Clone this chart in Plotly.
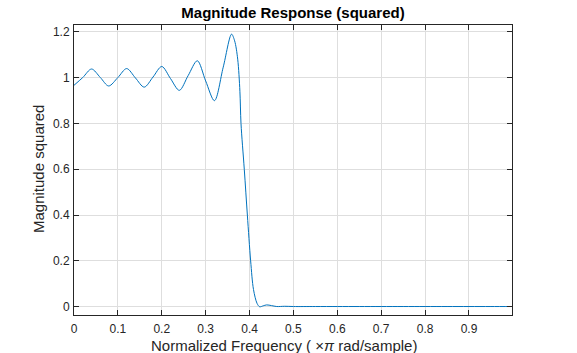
import plotly.graph_objects as go

# Normalized frequency (x pi rad/sample)
freq = [0.000, 0.020, 0.040, 0.060, 0.079, 0.100, 0.120, 0.140, 0.160, 0.180,
        0.200, 0.220, 0.240, 0.260, 0.281, 0.300, 0.320, 0.340, 0.359, 0.366,
        0.373, 0.378, 0.3805, 0.388, 0.395, 0.4025, 0.409, 0.417, 0.423, 0.431,
        0.439, 0.450, 0.462, 0.480, 0.500, 0.550, 0.600, 0.650, 0.700, 0.750,
        0.800, 0.850, 0.900, 0.950, 0.998]
# Magnitude squared values
mag2 = [0.966, 1.000, 1.037, 1.000, 0.963, 1.000, 1.039, 0.998, 0.958, 1.002,
        1.048, 0.995, 0.944, 1.008, 1.073, 0.985, 0.899, 1.045, 1.189, 1.160,
        1.080, 0.940, 0.800, 0.600, 0.400, 0.200, 0.075, 0.015, 0.000, 0.004,
        0.008, 0.005, 0.001, 0.002, 0.001, 0.001, 0.001, 0.001, 0.001, 0.001,
        0.001, 0.001, 0.001, 0.001, 0.001]

xtick_vals = [0, 0.1, 0.2, 0.3, 0.4, 0.5, 0.6, 0.7, 0.8, 0.9]
xtick_text = ["0", "0.1", "0.2", "0.3", "0.4", "0.5", "0.6", "0.7", "0.8", "0.9"]
ytick_vals = [0, 0.2, 0.4, 0.6, 0.8, 1.0, 1.2]
ytick_text = ["0", "0.2", "0.4", "0.6", "0.8", "1", "1.2"]

FONT = "Liberation Sans, Arial, sans-serif"
AX = "#262626"
GRID = "#dedede"

W, H = 577, 353
L, R, T, B = 74, 65, 25, 38
PW, PH = W - L - R, H - T - B

fig = go.Figure()
fig.add_trace(go.Scatter(x=freq, y=mag2, mode="lines",
                         line=dict(color="#0072BD", width=1, shape="spline", smoothing=0.9),
                         showlegend=False, hoverinfo="skip"))

axis_common = dict(showline=True, linecolor=AX, linewidth=1, mirror="allticks",
                   ticks="inside", ticklen=5, tickcolor=AX, tickwidth=1,
                   showgrid=True, gridcolor=GRID, gridwidth=1, zeroline=False,
                   automargin=False,
                   tickfont=dict(family=FONT, size=12, color=AX))

fig.update_xaxes(range=[0, 0.998], tickvals=xtick_vals, ticktext=xtick_text,
                 ticklabelstandoff=3, **axis_common)
fig.update_yaxes(range=[-0.036, 1.229], tickvals=ytick_vals, ticktext=ytick_text,
                 ticklabelstandoff=1, **axis_common)

fig.add_annotation(text="Normalized Frequency ( ×<i>π</i> rad/sample)",
                   xref="paper", yref="paper",
                   x=(284 - L) / PW, y=-(345 - (T + PH)) / PH,
                   xanchor="center", yanchor="middle", showarrow=False,
                   font=dict(family=FONT, size=15, color=AX))
fig.add_annotation(text="Magnitude squared", textangle=-90,
                   xref="paper", yref="paper",
                   x=(38 - L) / PW, y=1 - (169 - T) / PH,
                   xanchor="center", yanchor="middle", showarrow=False,
                   font=dict(family=FONT, size=15, color=AX))

fig.update_layout(
    width=W, height=H,
    margin=dict(l=L, r=R, t=T, b=B),
    paper_bgcolor="white", plot_bgcolor="white",
    title=dict(text="<b>Magnitude Response (squared)</b>", x=0.5, xanchor="center",
               xref="paper", y=1 - 12.5 / H, yanchor="middle",
               font=dict(family=FONT, size=15, color="#000000")),
)

fig.write_html("out.html")
